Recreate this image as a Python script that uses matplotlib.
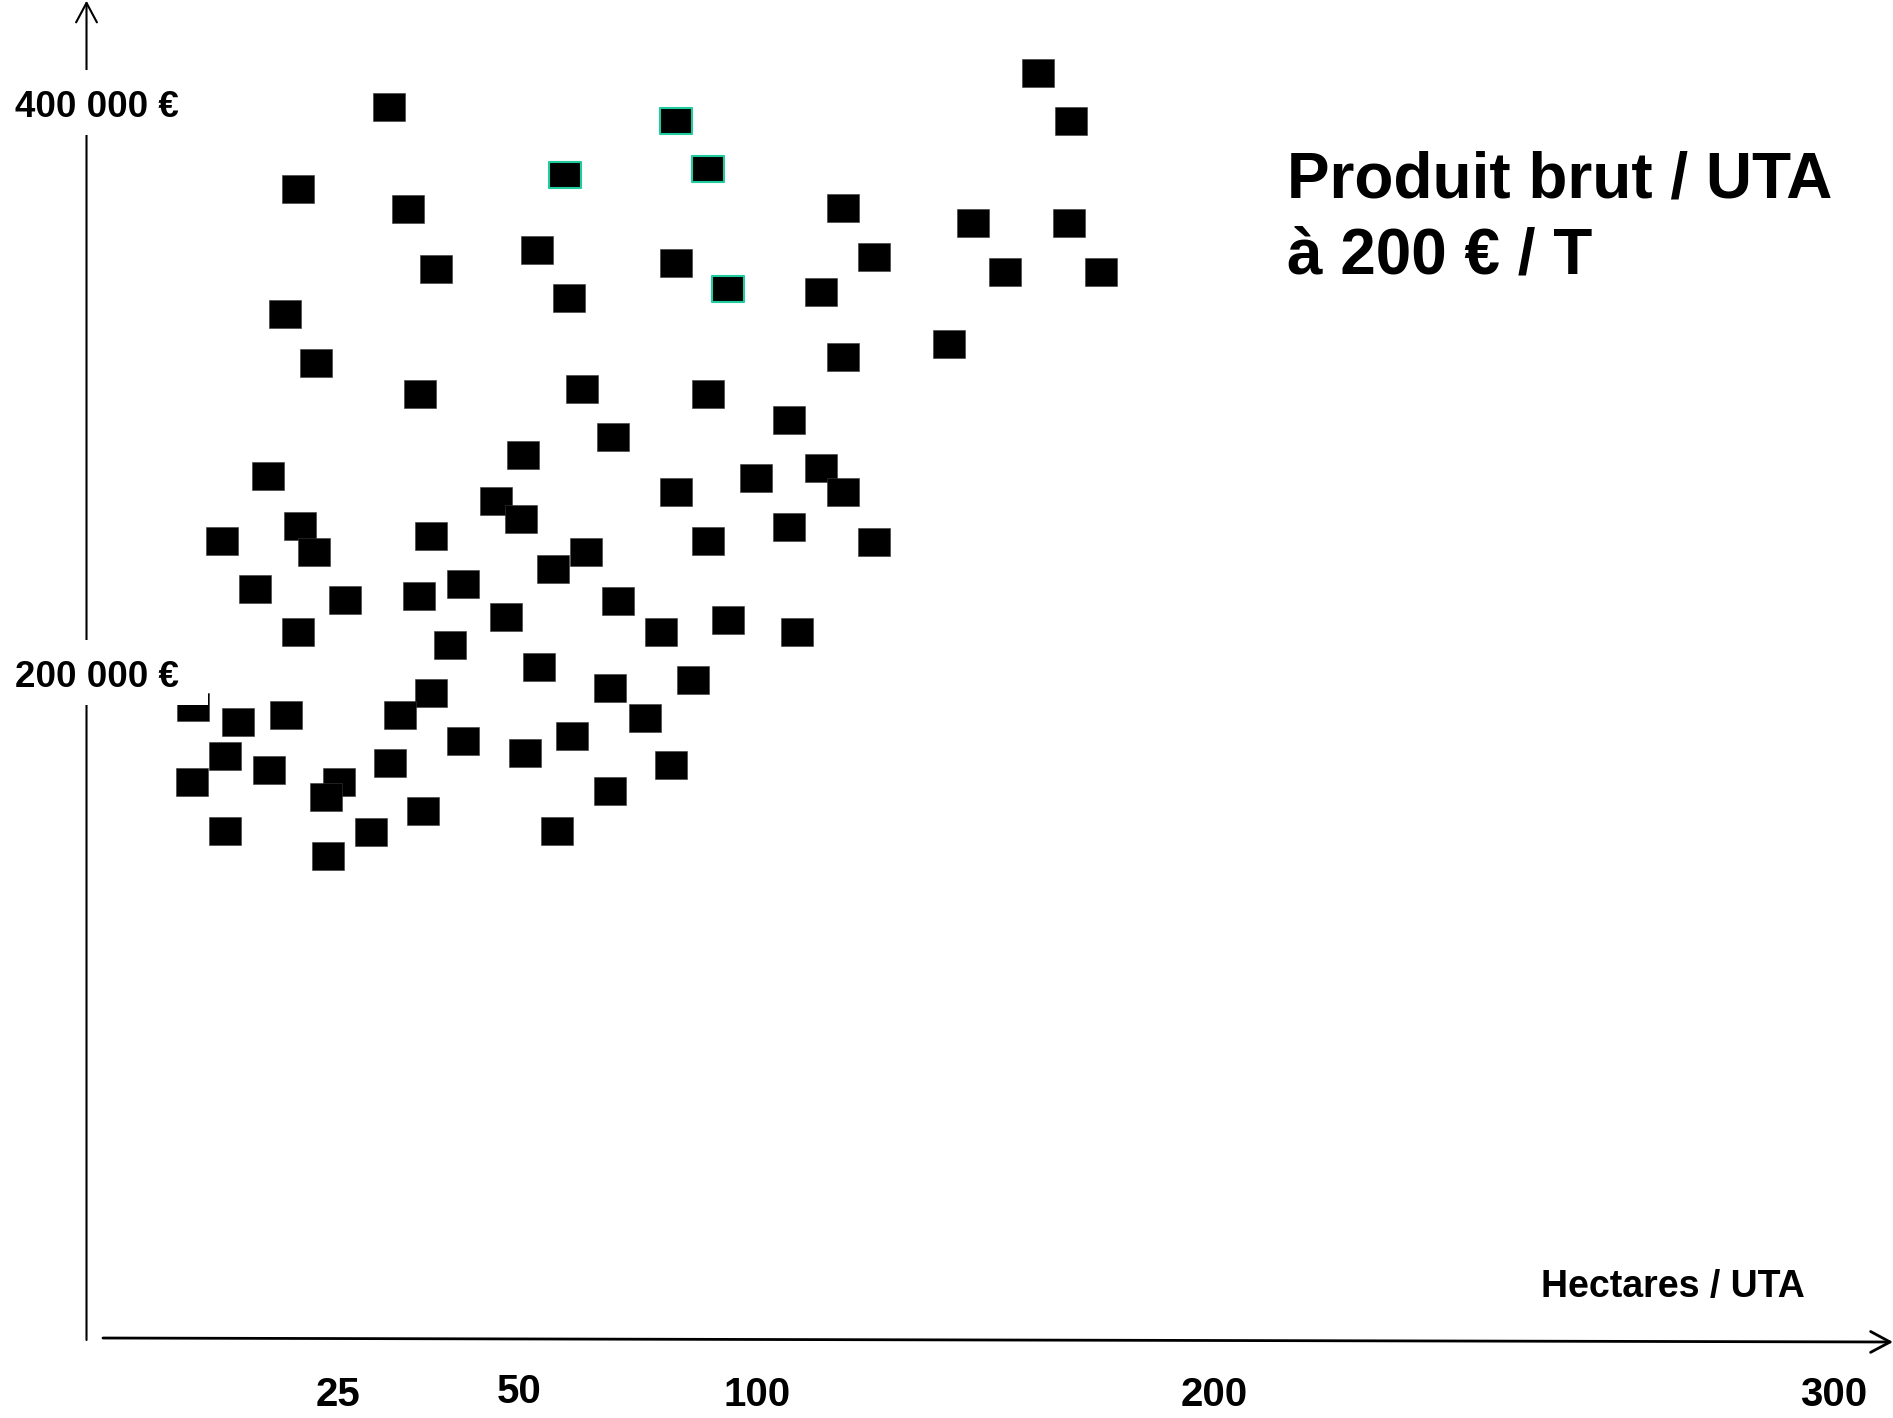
import numpy as np
import matplotlib.pyplot as plt
from matplotlib.path import Path
from matplotlib.patches import Rectangle
from matplotlib.transforms import blended_transform_factory

# Hectares / UTA and produit brut / UTA (EUR) for each farm
hectares = [161.5, 32.0, 83.0, 168.6, 59.6, 89.8, 21.0, 34.7, 118.7, 147.2,
            168.3, 53.8, 125.6, 38.5, 83.0, 154.1, 175.2, 93.9, 60.4, 114.0,
            19.7, 142.0, 22.8, 118.7, 36.3, 63.2, 89.8, 106.9, 69.8, 50.8,
            18.0, 99.7, 114.0, 83.0, 118.7, 46.8, 50.5, 21.2, 13.5, 37.8,
            89.8, 125.6, 106.9, 22.6, 64.0, 57.1, 16.7, 42.2, 26.0, 36.2,
            70.8, 48.2, 93.9, 21.0, 79.9, 108.7, 40.5, 54.1, 86.5, 37.8,
            69.0, 10.6, 15.0, 19.8, 33.5, 76.4, 13.7, 42.2, 61.2, 18.1,
            51.3, 32.2, 82.0, 10.5, 25.2, 23.8, 69.0, 36.7, 13.7, 29.5,
            57.9, 24.0]
produit = [411000, 399000, 394000, 394000, 375000, 377000, 370000, 363000, 363500, 358000,
           358000, 348600, 346000, 342000, 344000, 341000, 341000, 335000, 331600, 333800,
           326000, 315500, 309000, 310800, 298100, 299800, 298100, 288800, 282800, 276400,
           269200, 268400, 271800, 263300, 263300, 260300, 253900, 251400, 246300, 248000,
           246300, 245900, 251000, 242500, 242500, 236500, 229300, 231000, 225500, 226800,
           225100, 219500, 218300, 214400, 214400, 214400, 209800, 202100, 197500, 192800,
           194500, 187700, 182600, 185200, 185200, 183900, 170700, 175800, 177500, 165600,
           171600, 168200, 167300, 161400, 161400, 156300, 158400, 151200, 144400, 144000,
           144400, 135500]
highlighted = [2, 4, 5, 17]

x_ticks = [25, 50, 100, 200, 300]
x_tick_labels = ['25', '50', '100', '200', '300']
y_labels = ['400 000 €', '200 000 €']

# piecewise axis (uneven spacing of the hand-drawn slide)
HA_KNOTS = [-20, 0, 25, 50, 100, 200, 300, 340]
PX_KNOTS = [-114.0, 86.9, 338.0, 519.1, 757.0, 1214.5, 1833.9, 2081.6]


def fwd(x):
    return np.interp(x, HA_KNOTS, PX_KNOTS)


def inv(p):
    return np.interp(p, PX_KNOTS, HA_KNOTS)


sans = ['Liberation Sans', 'DejaVu Sans']

fig = plt.figure(figsize=(18.93, 14.18), dpi=100)
ax = fig.add_axes([0, 0, 1, 1])
ax.set_xscale('function', functions=(fwd, inv))
ax.set_xlim(inv(0), inv(1893))
ax.set_ylim(-62190, 436505)
ax.axis('off')

# rectangular marker, a bit wider than tall
rect = Path([(-0.5, -0.43), (0.5, -0.43), (0.5, 0.43), (-0.5, 0.43), (-0.5, -0.43)],
            [Path.MOVETO, Path.LINETO, Path.LINETO, Path.LINETO, Path.CLOSEPOLY])

hx = np.array(hectares)
py = np.array(produit)
mask = np.zeros(len(hx), dtype=bool)
mask[highlighted] = True

ax.scatter(hx[~mask], py[~mask], marker=rect, s=530, c='black',
           edgecolors='#3a3a3a', linewidths=0.4, zorder=2)
ax.scatter(hx[mask], py[mask], marker=rect, s=500, c='black',
           edgecolors='#1fcc9f', linewidths=1.5, zorder=2)

# axes arrows
ax.annotate('', xy=(0.0457, 0.9995), xytext=(0.0457, 0.055), xycoords='axes fraction',
            arrowprops=dict(arrowstyle='->,head_length=1.4,head_width=0.75',
                            lw=1.5, color='black', shrinkA=0, shrinkB=0), zorder=1)
ax.annotate('', xy=(1.0, 0.0536), xytext=(0.0544, 0.0564), xycoords='axes fraction',
            arrowprops=dict(arrowstyle='->,head_length=1.4,head_width=0.75',
                            lw=2.0, color='black', shrinkA=0, shrinkB=0), zorder=1)

# white boxes behind the y labels (they break the axis line)
for y0 in [0.9048, 0.5028]:
    ax.add_patch(Rectangle((0, y0), 0.1099, 0.0458, transform=ax.transAxes,
                           facecolor='white', edgecolor='none', zorder=3))

ax.text(0.0077, 0.9175, y_labels[0], transform=ax.transAxes, fontsize=26.5,
        fontweight='bold', family=sans, va='baseline', ha='left', zorder=4)
ax.text(0.0077, 0.5155, y_labels[1], transform=ax.transAxes, fontsize=26.5,
        fontweight='bold', family=sans, va='baseline', ha='left', zorder=4)

# x tick labels
trans = blended_transform_factory(ax.transData, ax.transAxes)
for xt, lab in zip(x_ticks, x_tick_labels):
    yb = 0.0106 if lab == '50' else 0.0085
    ax.text(xt, yb, lab, transform=trans, fontsize=29, fontweight='bold',
            family=sans, ha='center', va='baseline')

ax.text(0.8838, 0.0853, 'Hectares / UTA', transform=ax.transAxes, fontsize=27,
        fontweight='bold', family=sans, ha='center', va='baseline')

ax.text(0.680, 0.8604, 'Produit brut / UTA', transform=ax.transAxes, fontsize=46,
        fontweight='bold', family=sans, ha='left', va='baseline')
ax.text(0.680, 0.8068, 'à 200 € / T', transform=ax.transAxes, fontsize=46,
        fontweight='bold', family=sans, ha='left', va='baseline')

fig.savefig('out.png', dpi=100)
